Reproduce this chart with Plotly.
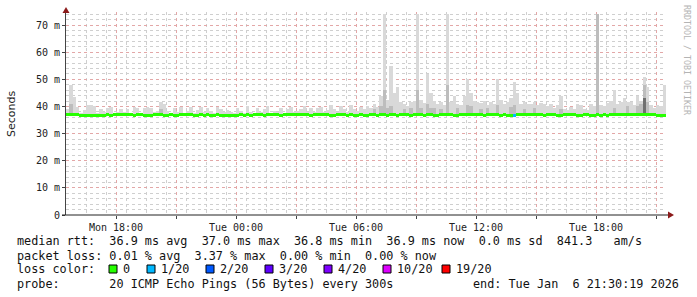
import pandas as pd
import plotly.graph_objects as go

# ---------------- data (10-minute steps, Mon 15:30 -> Tue 21:30) ----------------
start_time = "2026-01-05 15:30:00"
n_steps = 180
step_minutes = 10

# top of the smoke (max rtt, ms)
smoke_max = [
    39.0, 48.0, 43.5, 39.8, 37.6, 38.6, 40.4, 40.4, 40.2, 37.7, 38.9, 37.8, 39.3, 39.9, 37.6, 38.0, 39.2, 37.8,
    38.9, 37.7, 39.9, 39.4, 37.6, 39.5, 39.8, 39.6, 37.9, 38.2, 41.8, 41.0, 38.5, 37.6, 39.3, 37.8, 39.8, 37.7,
    38.4, 39.8, 37.6, 38.6, 39.9, 37.8, 39.6, 38.4, 37.6, 39.7, 39.2, 37.8, 38.6, 38.0, 37.6, 39.3, 38.2, 37.7,
    40.0, 37.8, 37.6, 39.4, 37.9, 39.2, 40.0, 37.7, 38.4, 37.8, 39.5, 37.6, 39.2, 39.8, 37.8, 38.2, 39.2, 40.2,
    37.9, 39.3, 38.0, 39.6, 39.9, 37.8, 38.8, 40.5, 39.0, 37.9, 40.0, 39.0, 38.0, 40.6, 39.2, 38.2, 39.8, 39.2,
    40.3, 39.4, 40.8, 39.8, 44.0, 74.0, 42.5, 55.0, 45.0, 47.0, 41.5, 41.0, 40.0, 41.5, 42.0, 74.0, 42.5, 41.2,
    52.0, 45.0, 42.0, 41.0, 41.6, 40.5, 74.0, 41.5, 44.0, 41.0, 40.5, 44.0, 50.0, 45.0, 42.0, 41.5, 41.2, 42.0,
    40.5, 41.8, 41.0, 50.0, 42.5, 41.0, 41.8, 43.0, 49.0, 45.0, 41.0, 41.5, 40.8, 41.0, 41.5, 40.5, 41.3, 40.8,
    40.0, 41.0, 39.5, 40.5, 44.0, 39.2, 38.6, 39.8, 39.0, 40.8, 40.5, 39.2, 38.8, 41.0, 40.0, 74.0, 40.5, 40.0,
    41.2, 42.0, 46.0, 41.0, 41.8, 43.0, 41.5, 41.5, 40.5, 44.0, 42.0, 51.0, 47.0, 40.5, 39.5, 40.5, 40.0, 48.0,
]
smoke_min = 36.5

# darker inner smoke (sparse)
mid_idx = [1, 28, 92, 94, 95, 96, 97, 101, 103, 105, 106, 108, 109, 110, 112, 114, 117, 120, 121, 124,
           126, 129, 133, 134, 137, 140, 148, 159, 164, 168, 171, 172, 173, 174]
mid_top = [41.0, 39.0, 39.0, 40.0, 46.0, 39.5, 40.0, 39.0, 39.5, 46.0, 39.5, 41.0, 39.5, 39.5, 39.0, 48.0,
           39.5, 40.5, 40.0, 39.0, 39.5, 40.5, 39.8, 40.5, 39.0, 39.5, 39.0, 74.0, 39.5, 40.0, 40.0, 41.0,
           48.0, 41.5]
dark_idx = [173]
dark_top = [43.0]

# median rtt (ms)
median_rtt = [
    37.0, 37.0, 37.0, 37.0, 36.6, 36.6, 36.6, 36.6, 36.6, 36.6, 36.6, 36.6, 37.0, 36.6, 37.0, 37.0, 37.0, 37.0,
    37.0, 37.0, 36.6, 37.0, 37.0, 36.6, 36.6, 36.6, 37.0, 37.0, 37.0, 36.6, 36.6, 37.0, 36.6, 36.6, 37.0, 37.0,
    37.0, 37.0, 36.6, 36.6, 37.0, 36.6, 37.0, 36.6, 36.6, 37.0, 36.6, 36.6, 36.6, 36.6, 36.6, 36.6, 37.0, 36.6,
    37.0, 36.6, 37.0, 37.0, 37.0, 36.6, 37.0, 37.0, 37.0, 37.0, 36.6, 37.0, 37.0, 37.0, 37.0, 37.0, 37.0, 37.0,
    37.0, 36.6, 37.0, 37.0, 37.0, 37.0, 37.0, 36.6, 36.6, 37.0, 37.0, 37.0, 36.6, 37.0, 36.6, 36.6, 37.0, 36.6,
    36.6, 37.0, 37.0, 36.6, 37.0, 37.0, 36.6, 37.0, 37.0, 36.6, 37.0, 37.0, 37.0, 36.6, 37.0, 37.0, 37.0, 36.6,
    37.0, 37.0, 36.6, 36.6, 37.0, 37.0, 37.0, 37.0, 36.6, 36.6, 37.0, 37.0, 37.0, 37.0, 37.0, 37.0, 37.0, 36.6,
    37.0, 37.0, 37.0, 37.0, 36.6, 37.0, 36.6, 36.6, 36.6, 37.0, 37.0, 37.0, 37.0, 37.0, 37.0, 37.0, 37.0, 36.6,
    37.0, 37.0, 37.0, 36.6, 36.6, 37.0, 37.0, 37.0, 37.0, 36.6, 36.6, 37.0, 37.0, 36.6, 36.6, 37.0, 36.6, 37.0,
    36.6, 37.0, 37.0, 37.0, 37.0, 37.0, 37.0, 37.0, 37.0, 37.0, 37.0, 37.0, 37.0, 37.0, 37.0, 36.6, 36.6, 36.6,
]

# packet loss (lost pings out of 20)
loss = [0] * 134 + [1] + [0] * 45

loss_levels = [0, 1, 2, 3, 4, 10, 19]
loss_labels = ["0", "1/20", "2/20", "3/20", "4/20", "10/20", "19/20"]
loss_colors = ["#26ff00", "#00b8ff", "#0059ff", "#5e00ff", "#7e00ff", "#dd00ff", "#ff0000"]

y_tick_vals = [0, 10, 20, 30, 40, 50, 60, 70]
y_tick_text = ["0", "10 m", "20 m", "30 m", "40 m", "50 m", "60 m", "70 m"]

x_label_text = {"2026-01-05 18:00": "Mon 18:00", "2026-01-06 00:00": "Tue 00:00",
                "2026-01-06 06:00": "Tue 06:00", "2026-01-06 12:00": "Tue 12:00",
                "2026-01-06 18:00": "Tue 18:00"}

legend_rows = [
    "median rtt:  36.9 ms avg  37.0 ms max  36.8 ms min  36.9 ms now  0.0 ms sd  841.3   am/s",
    "packet loss: 0.01 % avg  3.37 % max  0.00 % min  0.00 % now",
    "loss color:",
    "probe:       20 ICMP Echo Pings (56 Bytes) every 300s",
]
end_text = "end: Tue Jan  6 21:30:19 2026"

# ---------------- figure ----------------
t0 = pd.Timestamp(start_time)
step = pd.Timedelta(minutes=step_minutes)
centers = [t0 + step * i + step / 2 for i in range(n_steps)]
bar_w = step_minutes * 60 * 1000

LIGHT, MID, DARK = "#d9d9d9", "#bdbdbd", "#707070"
MONO = "DejaVu Sans Mono"

fig = go.Figure()
fig.add_trace(go.Bar(x=centers, y=[v - smoke_min for v in smoke_max], base=smoke_min, width=bar_w,
                     marker=dict(color=LIGHT, line=dict(width=0)), hoverinfo="skip"))
fig.add_trace(go.Bar(x=[centers[i] for i in mid_idx], y=[v - smoke_min for v in mid_top], base=smoke_min,
                     width=bar_w, marker=dict(color=MID, line=dict(width=0)), hoverinfo="skip"))
fig.add_trace(go.Bar(x=[centers[i] for i in dark_idx], y=[v - smoke_min for v in dark_top], base=smoke_min,
                     width=bar_w, marker=dict(color=DARK, line=dict(width=0)), hoverinfo="skip"))
cmap = dict(zip(loss_levels, loss_colors))
half = 0.55
fig.add_trace(go.Bar(x=centers, y=[2 * half] * n_steps, base=[m - half for m in median_rtt], width=bar_w,
                     marker=dict(color=[cmap[l] for l in loss], line=dict(width=0)), hoverinfo="skip"))

x_end = t0 + pd.Timedelta(hours=30)
major_x = pd.date_range("2026-01-05 18:00", x_end, freq="3h")
minor_x = pd.date_range(t0, x_end, freq="1h")
fig.update_layout(
    width=697, height=297,
    margin=dict(l=66, r=31, t=12, b=82),
    paper_bgcolor="white", plot_bgcolor="white",
    barmode="overlay", bargap=0, showlegend=False,
    font=dict(family=MONO, size=10, color="#222"),
    xaxis=dict(
        type="date", range=[t0, x_end],
        tickmode="array", tickvals=list(major_x),
        ticktext=[x_label_text.get(t.strftime("%Y-%m-%d %H:%M"), "") for t in major_x],
        showgrid=True, gridcolor="#e3a7a7", griddash="dot", gridwidth=1,
        minor=dict(tickmode="array", tickvals=list(minor_x), showgrid=True, gridcolor="#cfcfcf",
                   griddash="dot", ticks=""),
        ticks="outside", ticklen=3, tickcolor="#444",
        showline=False, zeroline=False,
        tickfont=dict(family=MONO, size=10, color="#222"),
    ),
    yaxis=dict(
        range=[0, 74.8], tickmode="array", tickvals=y_tick_vals, ticktext=y_tick_text,
        showgrid=True, gridcolor="#e3a7a7", griddash="dot", gridwidth=1,
        minor=dict(dtick=2, showgrid=True, gridcolor="#cfcfcf", griddash="dot", ticks=""),
        ticks="outside", ticklen=3, tickcolor="#444",
        showline=True, linecolor="#444", linewidth=1, zeroline=False,
        tickfont=dict(family=MONO, size=10, color="#222"),
    ),
)


def px(x):
    return (x - 66) / 600.0


def py(y):
    return (215 - y) / 203.0


shapes = [
    dict(type="line", xref="paper", yref="paper", x0=px(62), x1=px(668), y0=0, y1=0,
         line=dict(color="#222", width=1)),
    dict(type="path", xref="paper", yref="paper",
         path=f"M {px(674)} {py(215)} L {px(668)} {py(211.5)} L {px(668)} {py(218.5)} Z",
         fillcolor="#8b1a1a", line=dict(width=0)),
    dict(type="path", xref="paper", yref="paper",
         path=f"M {px(66)} {py(7)} L {px(62.5)} {py(13)} L {px(69.5)} {py(13)} Z",
         fillcolor="#8b1a1a", line=dict(width=0)),
]
box_x = [109, 147, 206, 265, 324, 383, 442]
for bx, col in zip(box_x, loss_colors):
    shapes.append(dict(type="rect", xref="paper", yref="paper", x0=px(bx), x1=px(bx + 8),
                       y0=py(273), y1=py(265), fillcolor=col, line=dict(color="black", width=1)))
fig.update_layout(shapes=shapes)

row_y = [241, 255.5, 269, 283.5]
ann = []
for txt, ry in zip(legend_rows, row_y):
    ann.append(dict(text=txt.replace(" ", "&nbsp;"), xref="paper", yref="paper", x=px(15), y=py(ry),
                    xanchor="left", yanchor="middle", showarrow=False,
                    font=dict(family=MONO, size=11.8, color="#111")))
for bx, lab in zip(box_x, loss_labels):
    ann.append(dict(text=lab, xref="paper", yref="paper", x=px(bx + 12), y=py(269),
                    xanchor="left", yanchor="middle", showarrow=False,
                    font=dict(family=MONO, size=11.8, color="#111")))
ann.append(dict(text=end_text.replace(" ", "&nbsp;"), xref="paper", yref="paper", x=px(681), y=py(283.5),
                xanchor="right", yanchor="middle", showarrow=False,
                font=dict(family=MONO, size=11.8, color="#111")))
ann.append(dict(text="Seconds", xref="paper", yref="paper", x=px(11), y=py(114), textangle=-90,
                xanchor="center", yanchor="middle", showarrow=False,
                font=dict(family="DejaVu Sans", size=11, color="#222")))
ann.append(dict(text="RRDTOOL / TOBI OETIKER", xref="paper", yref="paper", x=px(687), y=py(60),
                textangle=90, xanchor="center", yanchor="middle", showarrow=False,
                font=dict(family=MONO, size=8.3, color="#b4b4b4")))
fig.update_layout(annotations=ann)

fig.write_html("out.html")
